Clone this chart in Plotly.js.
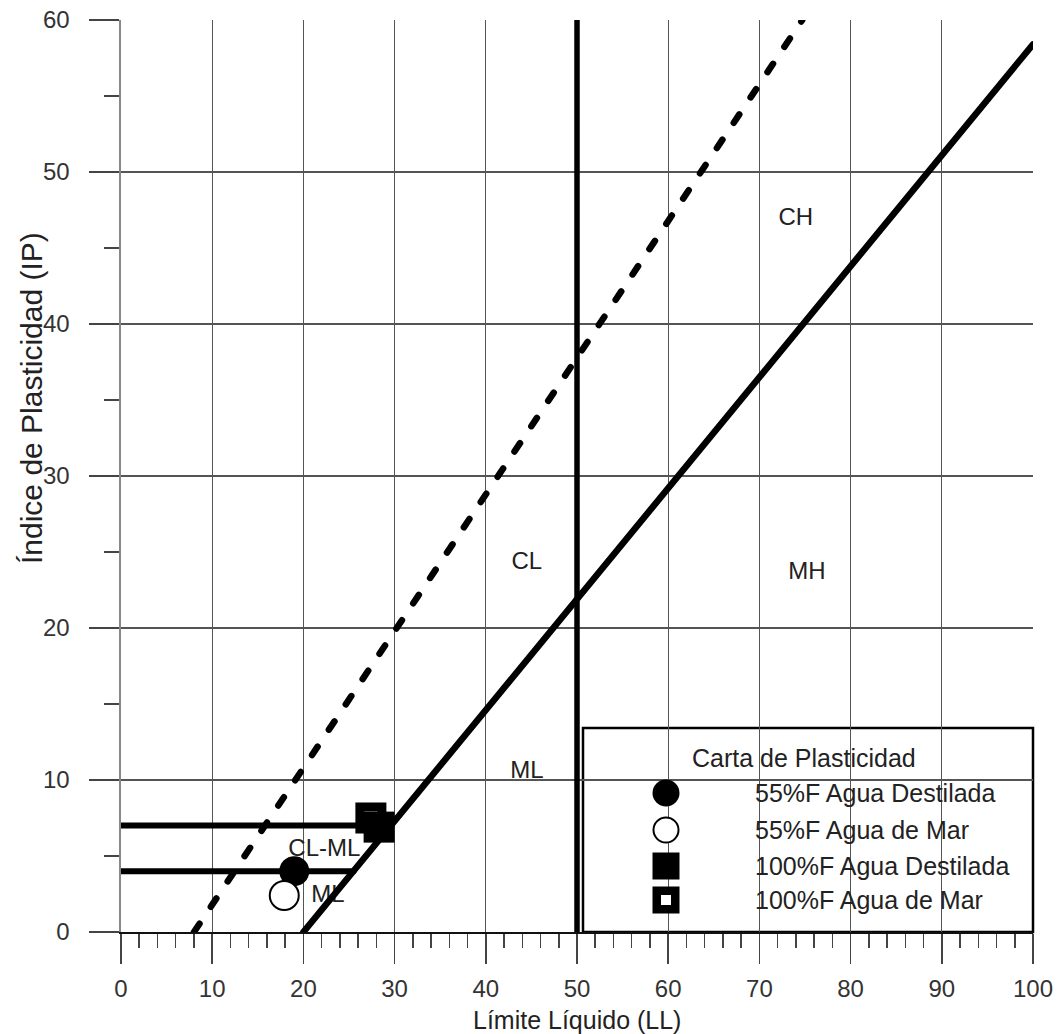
<!DOCTYPE html>
<html>
<head>
<meta charset="utf-8">
<script src="https://cdn.plot.ly/plotly-3.0.1.min.js"></script>
<style>
  html, body { margin: 0; padding: 0; background: #fff; }
  #chart { width: 1062px; height: 1034px; }
  .js-line { stroke-linecap: round; }
</style>
</head>
<body>
<div id="chart"></div>
<script>
// Casagrande plasticity chart: classification lines
const aLineLL = [20, 100];
const aLineIP = [0, 58.4];
const uLineLL = [8, 74.7];
const uLineIP = [0, 60];
const ll50LL = [50, 50];
const ll50IP = [0, 60];
const ip7LL = [0, 29.6];
const ip7IP = [7, 7];
const ip4LL = [0, 25.5];
const ip4IP = [4, 4];

// Soil zone labels
const zoneNames = ['CH', 'CL', 'MH', 'ML', 'CL-ML', 'ML'];
const zoneLL = [74.0, 44.5, 75.2, 44.5, 22.3, 22.7];
const zoneIP = [46.9, 24.3, 23.6, 10.5, 5.4, 2.4];

// Measured samples
const sampleNames = ['55%F Agua Destilada', '55%F Agua de Mar', '100%F Agua Destilada', '100%F Agua de Mar'];
const sampleLL = [19.0, 17.9, 28.3, 27.4];
const sampleIP = [4.0, 2.4, 6.9, 7.5];

// Axis ticks
const xTicks = [0, 10, 20, 30, 40, 50, 60, 70, 80, 90, 100];
const yTicks = [0, 10, 20, 30, 40, 50, 60];

const legendTitle = 'Carta de Plasticidad';
const xTitle = 'Límite Líquido (LL)';
const yTitle = 'Índice de Plasticidad (IP)';

// layout geometry (pixels)
const W = 1062, H = 1034;
const M = { l: 121, r: 29, t: 20, b: 102 };
const PW = W - M.l - M.r, PH = H - M.t - M.b;
const fx = px => (px - M.l) / PW;
const fy = py => (H - M.b - py) / PH;

const FONT = 'Liberation Sans, Arial, Helvetica, sans-serif';
const INK = '#222';

const lineStyle = (w, dash) => ({ color: '#000', width: w, dash: dash || 'solid' });

const traces = [
  {
    x: zoneLL, y: zoneIP, text: zoneNames, type: 'scatter', mode: 'text',
    textposition: 'middle center', textfont: { family: FONT, size: 24, color: INK },
    showlegend: false, cliponaxis: false
  },
  { x: aLineLL, y: aLineIP, type: 'scatter', mode: 'lines', line: lineStyle(6.5), showlegend: false, cliponaxis: false },
  { x: uLineLL, y: uLineIP, type: 'scatter', mode: 'lines', line: lineStyle(6.5, '10px,20.4px'), showlegend: false, cliponaxis: false },
  { x: ll50LL, y: ll50IP, type: 'scatter', mode: 'lines', line: lineStyle(5.5), showlegend: false, cliponaxis: false },
  { x: ip7LL, y: ip7IP, type: 'scatter', mode: 'lines', line: lineStyle(6), showlegend: false, cliponaxis: false },
  { x: ip4LL, y: ip4IP, type: 'scatter', mode: 'lines', line: lineStyle(6), showlegend: false, cliponaxis: false },
  {
    name: sampleNames[0], x: [sampleLL[0]], y: [sampleIP[0]], type: 'scatter', mode: 'markers',
    marker: { symbol: 'circle', size: 30, color: '#000' }, showlegend: false, cliponaxis: false
  },
  {
    name: sampleNames[1], x: [sampleLL[1]], y: [sampleIP[1]], type: 'scatter', mode: 'markers',
    marker: { symbol: 'circle', size: 29, color: '#fff', line: { color: '#000', width: 2 } }, showlegend: false, cliponaxis: false
  },
  {
    name: sampleNames[3], x: [sampleLL[3]], y: [sampleIP[3]], type: 'scatter', mode: 'markers',
    marker: { symbol: 'square', size: 22, color: '#fff', line: { color: '#000', width: 9 } }, showlegend: false, cliponaxis: false
  },
  {
    name: sampleNames[2], x: [sampleLL[2]], y: [sampleIP[2]], type: 'scatter', mode: 'markers',
    marker: { symbol: 'square', size: 31, color: '#000' }, showlegend: false, cliponaxis: false
  }
];

// hand-drawn key box
const keyX = 666;
const keyRows = [793, 830, 866, 900];
const shapes = [
  {
    type: 'rect', xref: 'paper', yref: 'paper', x0: fx(583), x1: fx(1033), y0: fy(932), y1: fy(728),
    fillcolor: '#fff', line: { color: '#000', width: 2.5 }, layer: 'between'
  },
  {
    type: 'circle', xref: 'paper', yref: 'paper', xsizemode: 'pixel', ysizemode: 'pixel',
    xanchor: fx(keyX), yanchor: fy(keyRows[0]), x0: -13.5, x1: 13.5, y0: -13.5, y1: 13.5,
    fillcolor: '#000', line: { width: 0 }
  },
  {
    type: 'circle', xref: 'paper', yref: 'paper', xsizemode: 'pixel', ysizemode: 'pixel',
    xanchor: fx(keyX), yanchor: fy(keyRows[1]), x0: -12.5, x1: 12.5, y0: -12.5, y1: 12.5,
    fillcolor: '#fff', line: { color: '#000', width: 2 }
  },
  {
    type: 'rect', xref: 'paper', yref: 'paper', xsizemode: 'pixel', ysizemode: 'pixel',
    xanchor: fx(keyX), yanchor: fy(keyRows[2]), x0: -13.5, x1: 13.5, y0: -13.5, y1: 13.5,
    fillcolor: '#000', line: { width: 0 }
  },
  {
    type: 'rect', xref: 'paper', yref: 'paper', xsizemode: 'pixel', ysizemode: 'pixel',
    xanchor: fx(keyX), yanchor: fy(keyRows[3]), x0: -9.25, x1: 9.25, y0: -9.25, y1: 9.25,
    fillcolor: '#fff', line: { color: '#000', width: 8.5 }
  }
];

const annotations = [
  {
    text: legendTitle, xref: 'paper', yref: 'paper', x: fx(690), y: fy(758),
    xanchor: 'left', yanchor: 'middle', showarrow: false, font: { family: FONT, size: 25, color: INK }
  },
  ...sampleNames.map((n, i) => ({
    text: n, xref: 'paper', yref: 'paper', x: fx(753), y: fy(keyRows[i]),
    xanchor: 'left', yanchor: 'middle', showarrow: false, font: { family: FONT, size: 25, color: INK }
  })),
  {
    text: xTitle, xref: 'paper', yref: 'paper', x: fx(577), y: fy(1020),
    xanchor: 'center', yanchor: 'middle', showarrow: false, font: { family: FONT, size: 25, color: INK }
  },
  {
    text: yTitle, xref: 'paper', yref: 'paper', x: fx(31), y: fy(398), textangle: -90,
    xanchor: 'center', yanchor: 'middle', showarrow: false, font: { family: FONT, size: 30, color: INK }
  }
];

const layout = {
  width: W, height: H,
  margin: M,
  paper_bgcolor: '#fff', plot_bgcolor: '#fff',
  showlegend: false,
  hovermode: false,
  font: { family: FONT, size: 24, color: '#333' },
  xaxis: {
    range: [0, 100], tickmode: 'array', tickvals: xTicks, ticktext: xTicks.map(String),
    showgrid: true, gridcolor: '#555', gridwidth: 1.4, zeroline: false,
    ticks: 'outside', ticklen: 30, tickwidth: 1.5, tickcolor: '#444', ticklabelstandoff: 4,
    minor: { dtick: 2, ticks: 'outside', ticklen: 14, tickwidth: 1.5, tickcolor: '#444', showgrid: false },
    showline: true, linecolor: '#111', linewidth: 2,
    tickfont: { family: FONT, size: 24, color: '#333' }
  },
  yaxis: {
    range: [0, 60], tickmode: 'array', tickvals: yTicks, ticktext: yTicks.map(String),
    showgrid: true, gridcolor: '#555', gridwidth: 1.4, zeroline: false,
    ticks: 'outside', ticklen: 30, tickwidth: 1.5, tickcolor: '#444', ticklabelstandoff: 14,
    minor: { dtick: 5, ticks: 'outside', ticklen: 15, tickwidth: 1.5, tickcolor: '#444', showgrid: false },
    showline: true, linecolor: '#888', linewidth: 2.5,
    tickfont: { family: FONT, size: 24, color: '#333' }
  },
  shapes: shapes,
  annotations: annotations
};

Plotly.newPlot('chart', traces, layout, { staticPlot: true, displayModeBar: false });
</script>
</body>
</html>
